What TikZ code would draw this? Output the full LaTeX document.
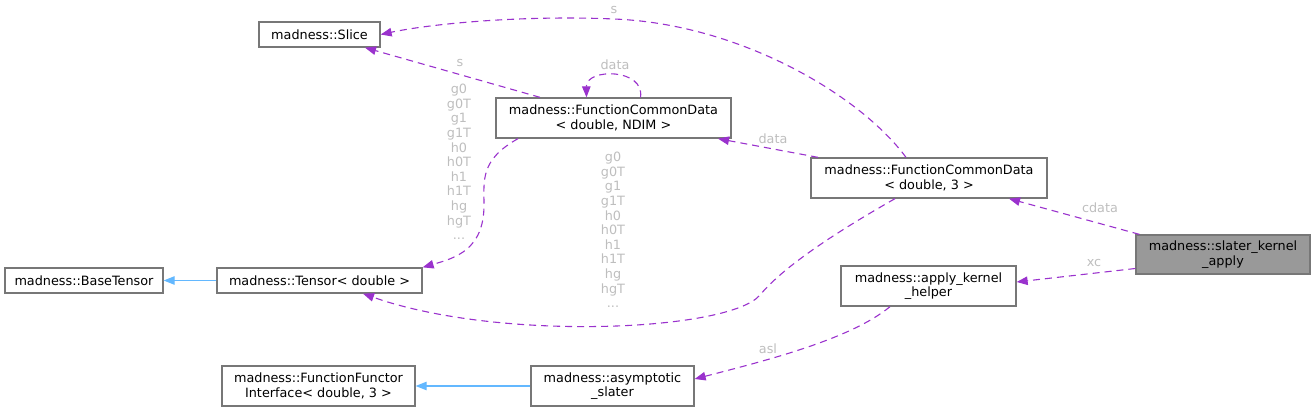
\documentclass[tikz,border=0pt]{standalone}
\usepackage{fontspec}
\setmainfont{DejaVu Sans}
\usetikzlibrary{arrows.meta,calc}
\definecolor{edgepurple}{HTML}{9A32CD}
\definecolor{edgeblue}{HTML}{63B8FF}
\definecolor{boxborder}{HTML}{777777}
\definecolor{lblgray}{HTML}{BEBEBE}
\definecolor{hilite}{HTML}{999999}
\begin{document}
\begin{tikzpicture}[x=1pt,y=-1pt,
  font=\fontsize{12.8}{14.6}\selectfont,
  box/.style={draw=boxborder, line width=1.3pt, fill=white, inner sep=0pt, align=center},
  pe/.style={draw=edgepurple, line width=1.1pt, dash pattern=on 7pt off 5pt, -{Triangle[length=11pt,width=8.5pt]}},
  be/.style={draw=edgeblue, line width=1.1pt, -{Triangle[length=11pt,width=8.5pt]}},
  lbl/.style={text=lblgray, inner sep=0pt, align=center}]
\useasboundingbox (0,0) rectangle (1315,417);

% nodes
\node[box, minimum width=121pt, minimum height=25pt] (slice) at (319.5,34.5) {madness::Slice};
\node[box, minimum width=235pt, minimum height=40pt] (fcdn) at (613.5,118) {madness::FunctionCommonData\\< double, NDIM >};
\node[box, minimum width=236pt, minimum height=40pt] (fcd3) at (929,178) {madness::FunctionCommonData\\< double, 3 >};
\node[box, fill=hilite, minimum width=174pt, minimum height=39pt] (slater) at (1223,254.5) {madness::slater\_kernel\\\_apply};
\node[box, minimum width=175pt, minimum height=40pt] (akh) at (928.5,286) {madness::apply\_kernel\\\_helper};
\node[box, minimum width=158pt, minimum height=25pt] (base) at (84,280.5) {madness::BaseTensor};
\node[box, minimum width=205pt, minimum height=25pt] (tensor) at (319.5,280.5) {madness::Tensor< double >};
\node[box, minimum width=193pt, minimum height=40pt] (ffi) at (318.5,386) {madness::FunctionFunctor\\Interface< double, 3 >};
\node[box, minimum width=163pt, minimum height=40pt] (asym) at (612.5,386) {madness::asymptotic\\\_slater};

% edges
\draw[pe] ($(fcd3.north)+(-23,0)$) .. controls (860,95) and (740,24) .. (614,19) .. controls (520,15) and (430,24) .. (slice.east);
\node[lbl] (ls1) at (614,10) {s};

\draw[pe] ($(fcdn.north)+(-73.5,0)$) -- ($(slice.south)+(45.5,0)$);
\node[lbl] (ls2) at (460,63) {s};

\draw[pe] ($(fcdn.north)+(27,0)$) .. controls (645,68) and (586,68) .. ($(fcdn.north)+(-27,0)$);
\node[lbl] (ldata1) at (615,65) {data};

\draw[pe] ($(fcdn.south)+(-95.5,0)$) .. controls (480,160) and (484,180) .. (484,205) .. controls (484,250) and (455,258) .. (tensor.north east);
\node[lbl] (lg1) at (459,162) {g0\\g0T\\g1\\g1T\\h0\\h0T\\h1\\h1T\\hg\\hgT\\...};

\draw[pe] ($(fcd3.south)+(-34,0)$) .. controls (840,230) and (785,265) .. (760,295) .. controls (730,331) and (500,342) .. ($(tensor.south)+(43.5,0)$);
\node[lbl] (lg2) at (613,230) {g0\\g0T\\g1\\g1T\\h0\\h0T\\h1\\h1T\\hg\\hgT\\...};

\draw[pe] ($(fcd3.north)+(-111,0)$) -- ($(fcdn.south)+(104.5,0)$);
\node[lbl] (ldata2) at (773,139) {data};

\draw[pe] ($(slater.north west)+(4,0)$) -- ($(fcd3.south)+(80,0)$);
\node[lbl] (lcdata) at (1100,208) {cdata};

\draw[pe] ($(slater.west)+(0,14)$) -- ($(akh.east)+(0,-4)$);
\node[lbl] (lxc) at (1094,263) {xc};

\draw[pe] ($(akh.south)+(-38.5,0)$) .. controls (850,340) and (760,362) .. ($(asym.east)+(0,-7)$);
\node[lbl] (lasl) at (768,349) {asl};

\draw[be] (tensor.west) -- (base.east);
\draw[be] (asym.west) -- (ffi.east);
\end{tikzpicture}
\end{document}
